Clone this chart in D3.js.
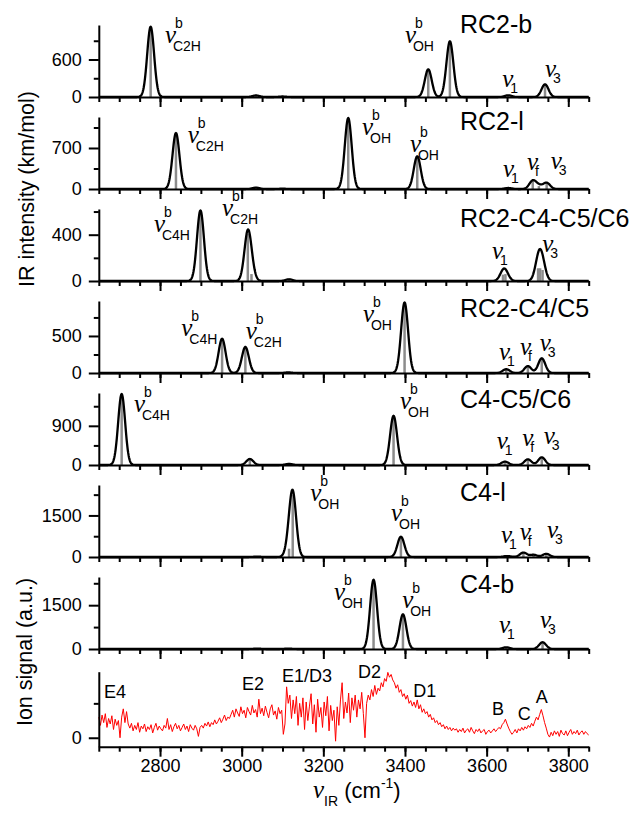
<!DOCTYPE html>
<html><head><meta charset="utf-8">
<script src="https://cdn.jsdelivr.net/npm/d3@7"></script>
<style>
body{margin:0;background:#fff;}
svg{display:block;}
text{font-family:"Liberation Sans",Arial,sans-serif;fill:#000;}
.nu{font-family:"Liberation Serif","Times New Roman",serif;font-style:italic;font-size:25px;}
.ss{font-family:"Liberation Sans",Arial,sans-serif;font-style:normal;font-size:14px;}
.ttl{font-size:25px;}
.pk{font-size:18px;}
</style></head><body>
<svg id="chart" width="635" height="816"></svg>
<script>
// ---------------- DATA ----------------
const panelNames = ["RC2-b","RC2-l","RC2-C4-C5/C6","RC2-C4/C5","C4-C5/C6","C4-l","C4-b"];
const yMax   = [1152, 1229, 622, 972, 1654, 2598, 2465];
const yMajor = [600, 700, 400, 500, 900, 1500, 1500];
const xMajorTicks = [2800, 3000, 3200, 3400, 3600, 3800];

// stick spectra (frequency cm-1, IR intensity km/mol)
const rc2bFreq = [2777, 3035, 3100, 3457, 3510, 3653, 3743];
const rc2bInt  = [1125, 25, 8, 443, 891, 27, 203];
const rc2lFreq = [2839, 3035, 3100, 3261, 3430, 3653, 3713, 3728, 3747];
const rc2lInt  = [956, 23, 6, 1212, 558, 17, 140, 50, 105];
const rc2c4c5c6Freq = [2899, 3015, 3024, 3116, 3640, 3646, 3726, 3731, 3737];
const rc2c4c5c6Int  = [610, 410, 60, 15, 55, 60, 110, 110, 95];
const rc2c4c5Freq = [2952, 3009, 3114, 3399, 3648, 3701, 3735];
const rc2c4c5Int  = [463, 352, 8, 953, 51, 93, 199];
const c4c5c6Freq = [2706, 3020, 3116, 3372, 3645, 3701, 3735];
const c4c5c6Int  = [1631, 138, 25, 1131, 77, 131, 177];
const c4lFreq = [3038, 3116, 3125, 3390, 3650, 3690, 3715, 3746];
const c4lInt  = [15, 300, 2250, 732, 35, 160, 80, 115];
const c4bFreq = [3038, 3114, 3323, 3395, 3648, 3737];
const c4bInt  = [15, 15, 2372, 1186, 58, 232];

const stickFreqs = [rc2bFreq, rc2lFreq, rc2c4c5c6Freq, rc2c4c5Freq, c4c5c6Freq, c4lFreq, c4bFreq];
const stickInts  = [rc2bInt, rc2lInt, rc2c4c5c6Int, rc2c4c5Int, c4c5c6Int, c4lInt, c4bInt];

// peak labels: [wavenumber, intensity, subscript, superscript]
const peakLabels = [
  [[2812, 864, "C2H", "b"], [3400, 864, "OH", "b"], [3638, 160, "1", ""], [3743, 320, "3", ""]],
  [[2868, 785, "C2H", "b"], [3295, 922, "OH", "b"], [3412, 632, "OH", "b"], [3640, 205, "1", ""], [3699, 324, "f", ""], [3757, 341, "3", ""]],
  [[2785, 423, "C4H", "b"], [2952, 562, "C2H", "b"], [3613, 190, "1", ""], [3736, 251, "3", ""]],
  [[2852, 500, "C4H", "b"], [3010, 459, "C2H", "b"], [3297, 689, "OH", "b"], [3630, 176, "1", ""], [3682, 243, "f", ""], [3730, 297, "3", ""]],
  [[2736, 1217, "C4H", "b"], [3388, 1286, "OH", "b"], [3625, 367, "1", ""], [3687, 436, "f", ""], [3740, 482, "3", ""]],
  [[3168, 2020, "OH", "b"], [3366, 1299, "OH", "b"], [3635, 505, "1", ""], [3681, 613, "f", ""], [3748, 686, "3", ""]],
  [[3226, 1678, "OH", "b"], [3393, 1404, "OH", "b"], [3630, 548, "1", ""], [3731, 719, "3", ""]]
];

// experimental ion signal, 2650..3850 cm-1 every 4 cm-1
const ionStart = 2650, ionStep = 4;
const ionSignal = [
  0.30,0.18,0.33,0.22,0.35,0.15,0.28,0.20,0.32,0.12,0.27,0.18,0.25,0.00,0.30,0.42,0.22,0.38,0.20,
  0.14,0.21,0.10,0.18,0.12,0.22,0.08,0.17,0.13,0.20,0.09,0.16,0.12,0.19,0.07,0.15,0.21,0.11,0.17,0.13,
  0.10,0.18,0.14,0.28,0.12,0.19,0.09,0.16,0.21,0.13,0.18,0.10,0.15,0.20,0.12,0.17,0.09,0.19,0.14,0.11,
  0.18,0.13,0.02,0.15,
  0.18,0.14,0.21,0.17,0.23,0.16,0.22,0.19,0.26,0.20,0.24,0.29,0.22,0.27,0.33,0.25,0.30,0.28,
  0.34,0.40,0.30,0.42,0.36,0.31,0.45,0.35,0.40,0.29,0.44,0.38,0.33,0.47,0.36,0.41,0.30,0.56,0.35,0.43,
  0.32,0.46,0.37,0.29,0.42,0.48,0.33,0.39,0.27,0.44,0.35,0.40,0.05,
  0.20,0.74,0.50,0.62,0.28,0.55,0.35,0.60,0.18,0.50,0.30,0.58,0.12,0.52,0.25,0.46,0.64,0.20,0.48,0.08,
  0.56,0.30,0.44,0.15,0.52,0.32,0.60,0.10,0.47,0.25,0.40,-0.05,0.45,0.18,0.55,0.80,0.28,0.52,0.36,0.65,
  0.22,0.58,0.40,0.62,0.30,0.55,0.42,0.66,0.35,0.00,
  0.50,0.62,0.55,0.70,0.60,0.76,0.63,0.72,0.68,0.80,0.74,0.86,0.82,0.95,0.88,0.92,0.84,
  0.80,0.72,0.77,0.66,0.70,0.60,0.64,0.56,0.62,0.50,0.54,0.46,0.52,0.44,0.55,0.42,0.48,0.37,0.42,0.35,
  0.38,0.30,0.34,0.26,0.29,0.22,0.25,0.19,0.22,0.16,0.19,0.13,0.17,0.12,0.15,0.10,0.14,0.11,
  0.13,0.08,0.12,0.09,0.14,0.07,0.11,0.13,0.08,0.15,0.10,0.06,0.12,0.09,0.13,0.07,0.10,0.12,0.05,0.09,
  0.11,0.07,0.10,0.13,0.09,
  0.12,0.15,0.13,0.19,0.22,0.27,0.20,0.14,0.09,0.05,
  0.08,0.12,0.07,0.13,0.10,0.15,0.11,0.16,0.13,0.18,
  0.15,0.21,0.17,0.24,0.30,0.26,0.34,0.41,0.32,0.22,
  0.14,0.05,0.01,0.08,0.03,0.10,0.05,0.09,0.02,0.11,0.06,0.04,0.10,0.03,0.08,0.12,0.05,0.09,0.06,0.11,
  0.04,0.08,0.10,0.05,0.09,0.06,0.04
];
const ionLabels = [["E4",2663,0.58],["E2",3001,0.69],["E1/D3",3099,0.81],["D2",3285,0.87],["D1",3420,0.59],["B",3613,0.33],["C",3676,0.26],["A",3720,0.50]];
const titleBaselines = [33, 130, 227, 317, 408, 501, 593];

// ---------------- LAYOUT ----------------
const svg = d3.select("#chart");
const xLeft = 98.8, xRight = 588.7;
const x = d3.scaleLinear().domain([2650, 3850]).range([xLeft, xRight]);
const sigma = 8.5;
const AX = 2;

function styleAxis(g){
  g.select(".domain").attr("stroke","#000").attr("stroke-width",AX);
  g.selectAll(".tick line").attr("stroke","#000").attr("stroke-width",AX);
  g.selectAll(".tick text").attr("font-size",18).attr("font-family","Liberation Sans, Arial, sans-serif").attr("fill","#000");
}

function drawXAxis(yPix, labels){
  const gMin = svg.append("g").attr("transform",`translate(0,${yPix})`)
    .call(d3.axisBottom(x).tickValues(d3.range(2650, 3851, 50)).tickSize(5).tickSizeOuter(0).tickFormat(""));
  styleAxis(gMin);
  const gMaj = svg.append("g").attr("transform",`translate(0,${yPix})`)
    .call(d3.axisBottom(x).tickValues(xMajorTicks).tickSize(10).tickSizeOuter(0).tickPadding(3)
      .tickFormat(labels ? d3.format("d") : ""));
  styleAxis(gMaj);
  gMaj.select(".domain").remove();
}

function drawYAxis(y, major, minor, fmt){
  const gMin = svg.append("g").attr("transform",`translate(${xLeft},0)`)
    .call(d3.axisLeft(y).tickValues(minor).tickSize(5).tickSizeOuter(0).tickFormat(""));
  styleAxis(gMin);
  const gMaj = svg.append("g").attr("transform",`translate(${xLeft},0)`)
    .call(d3.axisLeft(y).tickValues(major).tickSize(10).tickSizeOuter(0).tickPadding(7).tickFormat(fmt));
  styleAxis(gMaj);
  gMaj.select(".domain").remove();
}

// one text element per label: nu + stacked super/subscript
function nuLabel(px, py, sub, sup){
  const t = svg.append("text").attr("x",px).attr("y",py);
  t.append("tspan").attr("class","nu").attr("x",px).attr("y",py).text("ν");
  if(sup) t.append("tspan").attr("class","ss").attr("x",px+10).attr("y",py-15).text(sup);
  if(sub) t.append("tspan").attr("class","ss").attr("x",px+8).attr("y",py+(sup?8:6)).text(sub);
}

const grid = d3.range(2650, 3851, 1);

panelNames.forEach((name, i) => {
  const top = 25 + 92*i, bottom = 97 + 92*i;
  const y = d3.scaleLinear().domain([0, yMax[i]]).range([bottom, top]);
  const fr = stickFreqs[i], it = stickInts[i];
  // sticks
  svg.append("g").selectAll("line").data(fr.map((f,k)=>[f,it[k]])).join("line")
    .attr("x1",d=>x(d[0])).attr("x2",d=>x(d[0]))
    .attr("y1",y(0)).attr("y2",d=>y(d[1]))
    .attr("stroke","#8c8c8c").attr("stroke-width",2.5);
  // gaussian envelope of the sticks
  const env = grid.map(nu => [nu, d3.sum(fr, (f,k) => it[k]*Math.exp(-(nu-f)*(nu-f)/(2*sigma*sigma)))]);
  svg.append("path").datum(env)
    .attr("d", d3.line().x(d=>x(d[0])).y(d=>y(d[1])))
    .attr("fill","none").attr("stroke","#000").attr("stroke-width",2.3).attr("stroke-linejoin","round");
  drawXAxis(bottom, false);
  drawYAxis(y, [0, yMajor[i]], [yMajor[i]/2, yMajor[i]*1.5], d3.format("d"));
  svg.append("text").attr("class","ttl").attr("x",460).attr("y",titleBaselines[i]).text(name);
  peakLabels[i].forEach(l => nuLabel(x(l[0]), y(l[1]), l[2], l[3]));
});

// ion signal panel
const yIon = d3.scaleLinear().domain([-0.13, 0.96]).range([746.7, 671.7]);
svg.append("path").datum(ionSignal.map((v,k)=>[ionStart + k*ionStep, v]))
  .attr("d", d3.line().x(d=>x(d[0])).y(d=>yIon(d[1])))
  .attr("fill","none").attr("stroke","#ff0000").attr("stroke-width",1);
drawXAxis(746.7, true);
drawYAxis(yIon, [0], [0.5], d3.format("d"));
ionLabels.forEach(l => svg.append("text").attr("class","pk").attr("x",x(l[1])).attr("y",yIon(l[2])).text(l[0]));

// axis titles
const xt = svg.append("text").attr("x",313).attr("y",798).attr("font-size",22);
xt.append("tspan").attr("font-family","Liberation Serif, serif").attr("font-style","italic").attr("font-size",25).text("ν");
xt.append("tspan").attr("font-size",14).attr("dy",8).text("IR");
xt.append("tspan").attr("dy",-8).text(" (cm");
xt.append("tspan").attr("font-size",14).attr("dy",-10).text("-1");
xt.append("tspan").attr("dy",10).text(")");

svg.append("text").attr("transform","translate(34,189) rotate(-90)").attr("text-anchor","middle").attr("font-size",21.5).text("IR intensity (km/mol)");
svg.append("text").attr("transform","translate(32,652) rotate(-90)").attr("text-anchor","middle").attr("font-size",21.5).text("Ion signal (a.u.)");
</script>
</body></html>
